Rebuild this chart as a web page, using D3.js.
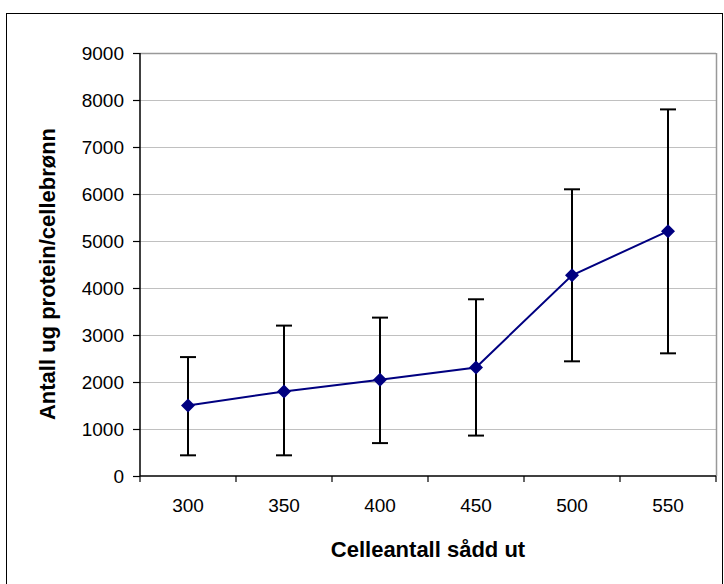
<!DOCTYPE html>
<html><head><meta charset="utf-8">
<script src="https://cdn.jsdelivr.net/npm/d3@7"></script>
<style>body{margin:0;background:#fff}svg{display:block}</style>
</head><body>
<script>
const categories = ["300","350","400","450","500","550"];
const means = [1500, 1800, 2050, 2310, 4270, 5210];
const lower = [440, 440, 700, 860, 2440, 2610];
const upper = [2530, 3200, 3370, 3760, 6100, 7800];
const yTicks = [0,1000,2000,3000,4000,5000,6000,7000,8000,9000];

const W = 724, H = 584;
const m = {left:140, top:53, right:716, bottom:476};
const svg = d3.select("body").append("svg").attr("width",W).attr("height",H);
svg.append("rect").attr("x",6.5).attr("y",13.5).attr("width",716).attr("height",575)
  .attr("fill","#fff").attr("stroke","#000").attr("stroke-width",1);

const x = d3.scaleBand().domain(categories).range([m.left,m.right]);
const y = d3.scaleLinear().domain([0,9000]).range([m.bottom,m.top]);

// gridlines
svg.append("g").selectAll("line").data(yTicks.filter(d=>d>0)).join("line")
  .attr("x1",m.left).attr("x2",m.right).attr("y1",d=>Math.round(y(d))+0.5).attr("y2",d=>Math.round(y(d))+0.5)
  .attr("stroke",d=>d===9000?"#999":"#c0c0c0").attr("stroke-width",d=>d===9000?1.5:1);
// right border of plot
svg.append("line").attr("x1",m.right+0.5).attr("x2",m.right+0.5).attr("y1",m.top).attr("y2",m.bottom)
  .attr("stroke","#999").attr("stroke-width",1.5);

const font = "'Liberation Sans', Arial, sans-serif";
// y axis
const ya = svg.append("g").attr("transform",`translate(${m.left},0)`)
  .call(d3.axisLeft(y).tickValues(yTicks).tickSize(7).tickPadding(9).tickFormat(d3.format("d")));
ya.select(".domain").attr("stroke","#000").attr("stroke-width",1.5).attr("d",`M0,${m.top}V${m.bottom}`);
ya.selectAll(".tick line").attr("stroke","#000").attr("stroke-width",1.2);
ya.selectAll("text").attr("font-family",font).attr("font-size",19).attr("fill","#000");

// x axis
const xa = svg.append("g").attr("transform",`translate(0,${m.bottom})`)
  .call(d3.axisBottom(x).tickSize(0).tickPadding(23));
xa.select(".domain").attr("stroke","#000").attr("stroke-width",1.5).attr("d",`M${m.left},0H${m.right}`);
xa.selectAll("text").attr("font-family",font).attr("font-size",19).attr("fill","#000");
const bounds = categories.map(c=>x(c)).concat([m.right]);
xa.append("g").selectAll("line").data(bounds).join("line")
  .attr("x1",d=>d).attr("x2",d=>d).attr("y1",0).attr("y2",6).attr("stroke","#000").attr("stroke-width",1.2);

const cx = i => x(categories[i]) + x.bandwidth()/2;
// error bars
const eb = svg.append("g").attr("stroke","#000").attr("stroke-width",2);
categories.forEach((c,i)=>{
  eb.append("line").attr("x1",cx(i)).attr("x2",cx(i)).attr("y1",y(lower[i])).attr("y2",y(upper[i]));
  eb.append("line").attr("x1",cx(i)-8).attr("x2",cx(i)+8).attr("y1",y(lower[i])).attr("y2",y(lower[i]));
  eb.append("line").attr("x1",cx(i)-8).attr("x2",cx(i)+8).attr("y1",y(upper[i])).attr("y2",y(upper[i]));
});
// line
svg.append("path").datum(means).attr("fill","none").attr("stroke","#000080").attr("stroke-width",2)
  .attr("d",d3.line().x((d,i)=>cx(i)).y(d=>y(d)));
// markers
svg.append("g").selectAll("path").data(means).join("path")
  .attr("transform",(d,i)=>`translate(${cx(i)},${y(d)})`)
  .attr("d","M0,-7L7,0L0,7L-7,0Z").attr("fill","#000080");

// titles
svg.append("text").attr("x",(m.left+m.right)/2).attr("y",557).attr("text-anchor","middle")
  .attr("font-family",font).attr("font-weight","bold").attr("font-size",22).text("Celleantall sådd ut");
svg.append("text").attr("transform",`translate(55,274) rotate(-90)`).attr("text-anchor","middle")
  .attr("font-family",font).attr("font-weight","bold").attr("font-size",22).text("Antall ug protein/cellebrønn");
</script>
</body></html>
